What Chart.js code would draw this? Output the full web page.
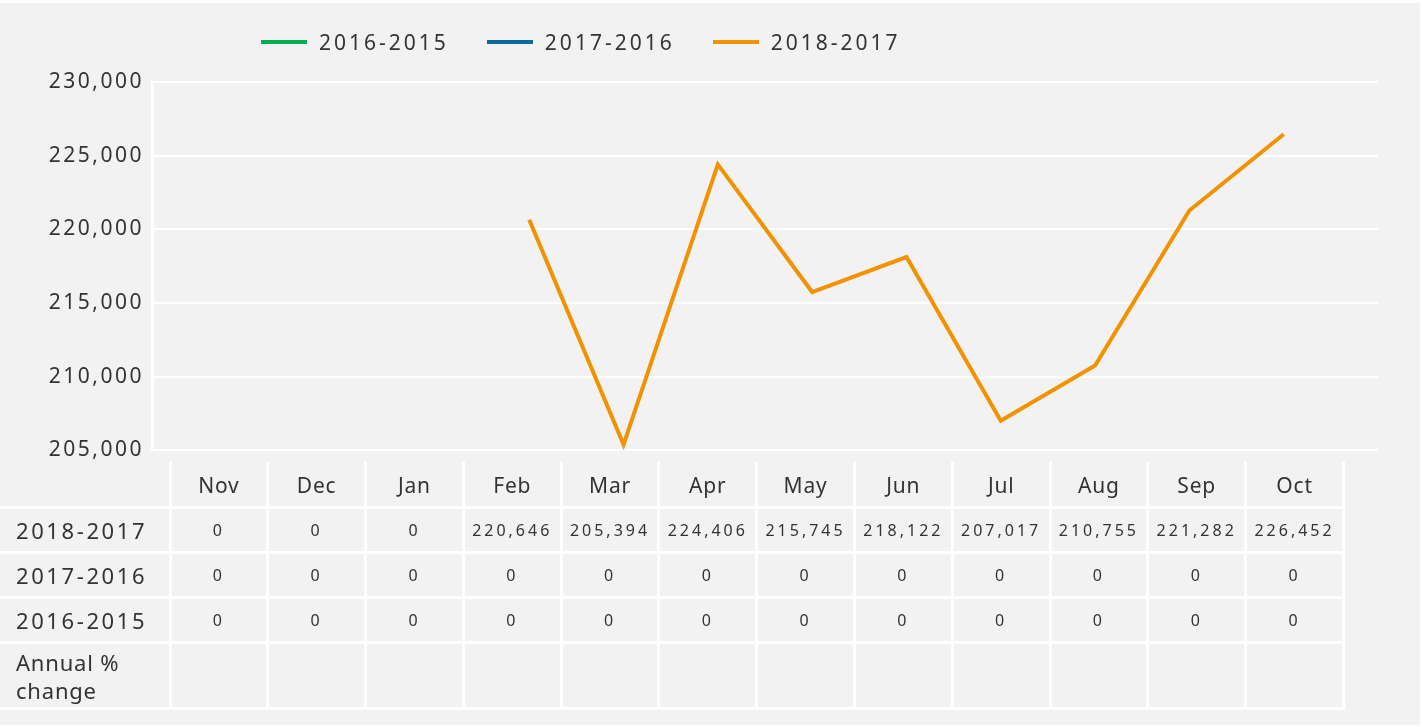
<!DOCTYPE html>
<html>
<head>
<meta charset="utf-8">
<script src="https://cdn.jsdelivr.net/npm/chart.js@4/dist/chart.umd.min.js"></script>
<style>
  html, body { margin: 0; padding: 0; }
  body {
    width: 1423px; height: 727px; position: relative; overflow: hidden;
    background: #fff; font-family: "Noto Sans", sans-serif; color: #333;
  }
  #panel { position: absolute; left: 0; top: 3px; width: 1420px; height: 722px; background: #f2f2f2; }
  #chartBox { position: absolute; left: 0; top: 0; width: 1423px; height: 471px; }
  #legend { position: absolute; left: 261px; top: 28px; display: flex; align-items: center; }
  .leg { display: flex; align-items: center; margin-right: 38px; font-size: 21px; letter-spacing: 3px; }
  .leg span.sw { display: inline-block; width: 46px; height: 4px; margin-right: 12px; }
  #dataTable {
    position: absolute; left: 0; top: 462px; border-collapse: collapse; table-layout: fixed;
    width: 1345px;
  }
  #dataTable td, #dataTable th { border: 3px solid #fff; padding: 0; text-align: center; font-weight: normal; }
  #dataTable th { font-size: 21px; height: 42px; border-top: none; letter-spacing: 0.8px; padding-top: 2px; }
  #dataTable th.blank { border: none; border-right: 3px solid #fff; border-bottom: 3px solid #fff; }
  #dataTable td { font-size: 16px; letter-spacing: 3px; height: 42px; }
  #dataTable td.lab { text-align: left; padding-left: 16px; font-size: 22px; letter-spacing: 2.6px; border-left: none; }
  #dataTable tr.pct td { height: 63px; }
  #dataTable tr.pct td.lab { line-height: 28px; letter-spacing: 0.8px; }
</style>
</head>
<body>
<div id="panel"></div>
<div id="chartBox"><canvas id="lineChart"></canvas></div>
<div id="legend"></div>
<table id="dataTable"></table>
<script>
document.addEventListener("DOMContentLoaded", function () {
    // Months on the x-axis
    const months = ['Nov', 'Dec', 'Jan', 'Feb', 'Mar', 'Apr', 'May', 'Jun', 'Jul', 'Aug', 'Sep', 'Oct'];

    // Series values (0 = no data, shown in the table but not plotted)
    const values2018_2017 = [0, 0, 0, 220646, 205394, 224406, 215745, 218122, 207017, 210755, 221282, 226452];
    const values2017_2016 = [0, 0, 0, 0, 0, 0, 0, 0, 0, 0, 0, 0];
    const values2016_2015 = [0, 0, 0, 0, 0, 0, 0, 0, 0, 0, 0, 0];

    // Y tick values
    const yTicks = [205000, 210000, 215000, 220000, 225000, 230000];

    const series = [
        { label: '2016-2015', data: values2016_2015, color: '#00b050' },
        { label: '2017-2016', data: values2017_2016, color: '#0a6a9c' },
        { label: '2018-2017', data: values2018_2017, color: '#f39200' }
    ];

    const toPoints = arr => arr.map((v, i) => ({ x: i, y: v === 0 ? null : v }));

    const spacingPlugin = {
        id: 'letterSpacing',
        beforeDraw(chart) { chart.ctx.letterSpacing = '2.5px'; }
    };

    const ctx = document.getElementById("lineChart").getContext("2d");
    new Chart(ctx, {
        type: 'line',
        data: {
            datasets: series.map(s => ({
                label: s.label,
                data: toPoints(s.data),
                borderColor: s.color,
                backgroundColor: s.color,
                borderWidth: 4,
                pointRadius: 0,
                tension: 0,
                spanGaps: false
            }))
        },
        plugins: [spacingPlugin],
        options: {
            responsive: true,
            maintainAspectRatio: false,
            animation: false,
            layout: { padding: { top: 82, bottom: 11, right: 45, left: 0 } },
            plugins: {
                legend: { display: false },
                tooltip: { enabled: false }
            },
            scales: {
                x: { type: 'linear', min: -1, max: 12, display: false },
                y: {
                    min: 205000,
                    max: 230000,
                    afterBuildTicks: scale => { scale.ticks = yTicks.map(v => ({ value: v })); },
                    afterFit: scale => { scale.width = 152; },
                    grid: { color: '#ffffff', lineWidth: 2, drawTicks: false },
                    border: { display: true, color: '#ffffff', width: 3 },
                    ticks: {
                        padding: 8,
                        color: '#333',
                        font: { family: 'Noto Sans', size: 21 },
                        callback: v => v.toLocaleString('en-US')
                    }
                }
            }
        }
    });

    // Legend
    const legend = document.getElementById('legend');
    series.forEach(s => {
        const item = document.createElement('div');
        item.className = 'leg';
        item.innerHTML = '<span class="sw" style="background:' + s.color + '"></span>' + s.label;
        legend.appendChild(item);
    });

    // Data table
    const table = document.getElementById('dataTable');
    let html = '<colgroup><col style="width:170px">' + months.map(() => '<col>').join('') + '</colgroup>';
    html += '<tr><th class="blank"></th>' + months.map(m => '<th>' + m + '</th>').join('') + '</tr>';
    [series[2], series[1], series[0]].forEach(s => {
        html += '<tr><td class="lab">' + s.label + '</td>' +
            s.data.map(v => '<td>' + v.toLocaleString('en-US') + '</td>').join('') + '</tr>';
    });
    html += '<tr class="pct"><td class="lab">Annual %<br>change</td>' + months.map(() => '<td></td>').join('') + '</tr>';
    table.innerHTML = html;
});
</script>
</body>
</html>
